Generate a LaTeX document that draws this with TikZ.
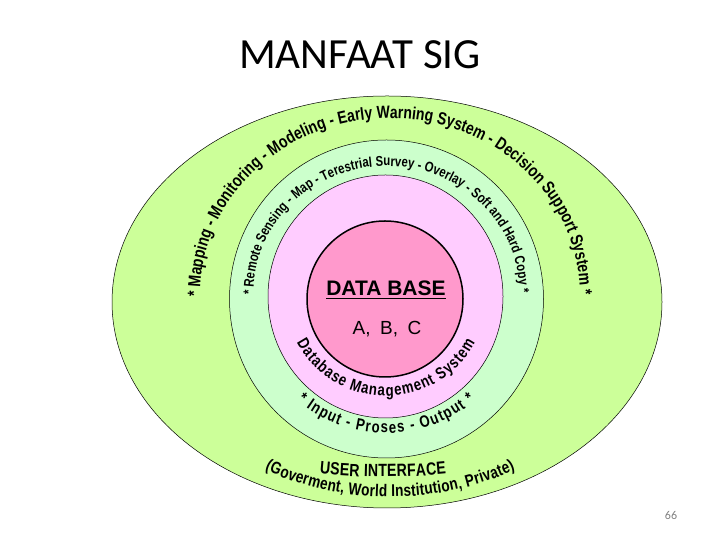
\documentclass[tikz,border=0pt]{standalone}
\usepackage{fontspec}
\setmainfont{Liberation Sans}
\newfontfamily\titlefont{Carlito}
\newfontfamily\arcfont[FakeStretch=0.8]{Liberation Sans}
\usetikzlibrary{decorations.text, shapes.geometric, positioning}

\definecolor{ringlime}{RGB}{204, 255, 153}
\definecolor{ringmint}{RGB}{204, 255, 204}
\definecolor{ringpink}{RGB}{255, 204, 255}
\definecolor{corepink}{RGB}{255, 153, 204}

\newcommand\arcsize[1]{\arcfont\bfseries\fontsize{#1}{#1}\selectfont}

\begin{document}
\begin{tikzpicture}[x=1pt, y=1pt,
  ring/.style={draw=black, line width=0.5pt, ellipse, inner sep=0pt},
  arctext/.style={decorate, decoration={text along path, text align=fit to path, text={#1}}}]
\useasboundingbox (0,0) rectangle (720,540);

% rings, outside in
\node[ring, fill=ringlime, minimum width=550pt, minimum height=412pt] (outer) at (387,238) {};
\node[ring, fill=ringmint, minimum width=314pt, minimum height=318pt] (mint) at (386.5,241) {};
\node[ring, fill=ringpink, minimum width=235pt, minimum height=243pt] (pink) at (385.5,243.5) {};
\node[ring, fill=corepink, line width=1.5pt, circle, minimum size=156pt] (core) at (385,241) {};

% title and page number
\node[font=\titlefont\fontsize{43}{43}\selectfont] (title) at (360,485) {MANFAAT SIG};
\node[font=\titlefont\fontsize{12}{12}\selectfont, text=gray] (page) at (671,25) {66};

% core texts
\node[font=\bfseries\fontsize{21}{21}\selectfont, anchor=base, inner sep=0pt] (dbtitle) at (386,244) {DATA BASE};
\draw[line width=1.4pt] ([yshift=-2.6pt]dbtitle.base west) -- ([yshift=-2.6pt]dbtitle.base east);
\node[font=\fontsize{19}{19}\selectfont, anchor=base, inner sep=0pt] (abc) at (387,205) {A,\hspace{0.5em}B,\hspace{0.5em}C};

% texts along the rings
\coordinate (mid) at (386,245);
\path[arctext={|\arcsize{17.5}|* Mapping - Monitoring - Modeling - Early Warning System - Decision Support System *}]
  (200,243) arc[start angle=180.6, end angle=0, x radius=190, y radius=177];
\path[arctext={|\arcsize{14.2}|* Remote Sensing - Map - Terestrial Survey - Overlay - Soft and Hard Copy *}]
  (253.5,245) arc[start angle=180.9, end angle=0, x radius=133, y radius=127];
\path[arctext={|\arcsize{16.5}|Database Management System}]
  ([shift={(mid)}]208:101) arc[start angle=208, end angle=332, radius=101];
\path[arctext={|\arcsize{16.5}|* Input - Proses - Output *}]
  ([shift={(mid)}]230:138) arc[start angle=230, end angle=310, radius=138];
\path[arctext={|\arcsize{17.7}|USER INTERFACE}]
  ([shift={(383,713)}]264.4:650) arc[start angle=264.4, end angle=275.6, radius=650];
\path[arctext={|\arcsize{17}|(Goverment, World Institution, Private)}]
  ([shift={(390,346)}]245.6:303) arc[start angle=245.6, end angle=294.4, radius=303];
\end{tikzpicture}
\end{document}
